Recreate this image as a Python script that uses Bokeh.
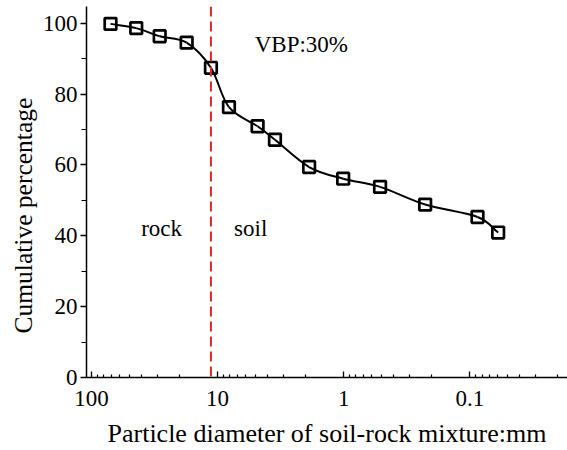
import numpy as np
from bokeh.plotting import figure
from bokeh.models import Range1d, FixedTicker, CustomJSTickFormatter, Span, Label, Title, ColumnDataSource
from bokeh.embed import file_html
from bokeh.resources import INLINE

# ---- data ----
diameter_mm = [70.7, 44.2, 28.8, 17.6, 11.3, 8.13, 4.82, 3.51, 1.88, 1.01, 0.515, 0.226, 0.0869, 0.0596]
cumulative_pct = [99.8, 98.6, 96.3, 94.5, 87.4, 76.3, 70.9, 67.1, 59.4, 56.1, 53.8, 48.8, 45.3, 40.9]
x_major_ticks = [100, 10, 1, 0.1]
y_major_ticks = [0, 20, 40, 60, 80, 100]
y_minor_ticks = [10, 30, 50, 70, 90]
boundary_mm = 11.3
vbp_text = "VBP:30%"
left_text = "rock"
right_text = "soil"
x_title = "Particle diameter of soil-rock mixture:mm"
y_title = "Cumulative percentage"

FONT = "Liberation Serif"

x_minor_ticks = [m * b for b in [10, 1, 0.1, 0.01] for m in range(2, 10)]

p = figure(width=567, height=450, x_axis_type="log",
           x_range=Range1d(109.6, 0.0168), y_range=Range1d(0, 104.7),
           output_backend="svg", toolbar_location=None,
           min_border_left=86, min_border_right=0, min_border_top=6, min_border_bottom=73)
p.grid.visible = False
p.outline_line_color = None
p.background_fill_color = "white"
p.border_fill_color = "white"

# x axis
xa = p.xaxis[0]
xa.ticker = FixedTicker(ticks=x_major_ticks, minor_ticks=x_minor_ticks)
xa.formatter = CustomJSTickFormatter(code="return tick.toString();")
xa.major_tick_in = 6
xa.major_tick_out = 0
xa.minor_tick_in = 3
xa.minor_tick_out = 0
xa.axis_line_width = 1.5
xa.major_tick_line_width = 1.3
xa.minor_tick_line_width = 1.2
xa.major_label_text_font = FONT
xa.major_label_text_font_size = "23px"
xa.major_label_text_color = "black"
xa.major_label_standoff = 13
xa.axis_label = x_title
xa.axis_label_text_font = FONT
xa.axis_label_text_font_size = "26px"
xa.axis_label_text_font_style = "normal"
xa.axis_label_text_color = "black"
xa.axis_label_standoff = 10

# y axis
ya = p.yaxis[0]
ya.ticker = FixedTicker(ticks=y_major_ticks, minor_ticks=y_minor_ticks)
ya.major_tick_in = 0
ya.major_tick_out = 6
ya.minor_tick_in = 0
ya.minor_tick_out = 5
ya.axis_line_width = 1.5
ya.major_tick_line_width = 1.3
ya.minor_tick_line_width = 1.2
ya.major_label_text_font = FONT
ya.major_label_text_font_size = "23px"
ya.major_label_text_color = "black"
ya.major_label_standoff = 3

# y title as a left-side title, shifted like the reference
p.add_layout(Title(text=y_title, align="left", offset=44, standoff=2,
                   text_font=FONT, text_font_size="25.5px", text_font_style="normal",
                   text_color="black", vertical_align="middle"), "left")

# smooth curve (Catmull-Rom through the points, in log-x space)
lx = np.log10(np.array(diameter_mm))
yy = np.array(cumulative_pct, dtype=float)
n = len(lx)
px = np.concatenate([[2 * lx[0] - lx[1]], lx, [2 * lx[-1] - lx[-2]]])
py = np.concatenate([[2 * yy[0] - yy[1]], yy, [2 * yy[-1] - yy[-2]]])
segs = dict(x0=[], y0=[], x1=[], y1=[], cx0=[], cy0=[], cx1=[], cy1=[])
for i in range(1, n):
    a, b = i, i + 1
    c0x = px[a] + (px[b] - px[a - 1]) / 6
    c0y = py[a] + (py[b] - py[a - 1]) / 6
    c1x = px[b] - (px[b + 1] - px[a]) / 6
    c1y = py[b] - (py[b + 1] - py[a]) / 6
    segs["x0"].append(10 ** px[a]); segs["y0"].append(py[a])
    segs["x1"].append(10 ** px[b]); segs["y1"].append(py[b])
    segs["cx0"].append(10 ** c0x); segs["cy0"].append(c0y)
    segs["cx1"].append(10 ** c1x); segs["cy1"].append(c1y)
p.bezier(x0="x0", y0="y0", x1="x1", y1="y1", cx0="cx0", cy0="cy0", cx1="cx1", cy1="cy1",
         source=ColumnDataSource(segs), line_color="black", line_width=2)

p.scatter(diameter_mm, cumulative_pct, marker="square", size=11.6, line_width=2.7,
          line_color="black", fill_color=None)

# boundary line
p.add_layout(Span(location=boundary_mm, dimension="height", line_color="#d92a22",
                  line_width=2, line_dash="10 5"))

# annotations
p.add_layout(Label(x=5.08, y=94.0, text=vbp_text, text_font=FONT, text_font_size="23px",
                   text_align="left", text_baseline="middle", text_color="black"))
p.add_layout(Label(x=27.8, y=42.0, text=left_text, text_font=FONT, text_font_size="23px",
                   text_align="center", text_baseline="middle", text_color="black"))
p.add_layout(Label(x=5.47, y=42.0, text=right_text, text_font=FONT, text_font_size="23px",
                   text_align="center", text_baseline="middle", text_color="black"))

open("out.html", "w").write(file_html(p, INLINE))
